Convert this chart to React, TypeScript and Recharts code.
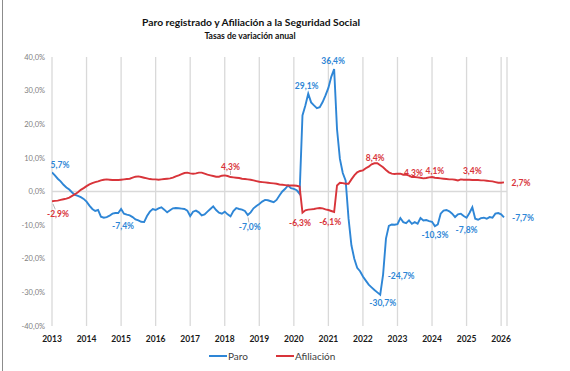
import React from 'react';
import { LineChart, Line, XAxis, YAxis, CartesianGrid, ReferenceLine, Legend, LabelList } from 'recharts';

const START_YEAR = 2013;
const YEAR_TICKS = [2013, 2014, 2015, 2016, 2017, 2018, 2019, 2020, 2021, 2022, 2023, 2024, 2025, 2026];
const Y_TICKS = [-40, -30, -20, -10, 0, 10, 20, 30, 40];

// Monthly year-on-year rates, Jan 2013 .. Feb 2026
const paro = [
  5.7, 4.8, 3.8, 3.0, 2.0, 1.2, 0.6, -0.3, -1.0, -1.3, -1.7, -2.2,
  -3.0, -4.2, -5.2, -5.8, -5.5, -7.5, -7.8, -7.6, -7.2, -6.6, -6.4, -6.4,
  -5.2, -6.6, -6.9, -7.1, -7.6, -8.3, -8.6, -9.0, -9.1, -7.3, -6.0, -5.2,
  -5.5, -5.0, -4.7, -5.4, -6.2, -5.6, -5.0, -4.9, -5.0, -5.1, -5.2, -5.7,
  -7.3, -6.0, -5.7, -6.2, -7.1, -6.8, -6.0, -5.2, -4.4, -5.5, -6.3, -6.6,
  -6.0, -6.8, -7.4, -5.8, -4.9, -5.2, -5.4, -5.8, -7.0, -6.2, -5.0, -4.3,
  -3.7, -3.0, -2.5, -2.6, -2.9, -3.2, -2.5, -1.2, 0.0, 0.8, 1.8, 1.0,
  0.8, 0.4, -0.7, 22.6, 25.6, 29.1, 26.5, 25.6, 24.8, 25.1, 26.6, 28.6,
  30.8, 34.1, 36.4, 18.5, 9.7, 5.5, 3.2, -8.0, -16.0, -20.0, -22.7, -23.7,
  -25.3, -26.5, -27.7, -28.5, -29.3, -30.0, -30.7, -24.7, -14.0, -10.2, -9.8, -9.9,
  -9.7, -7.9, -9.1, -9.4, -8.6, -9.6, -9.1, -9.6, -7.9, -8.6, -8.5, -8.8,
  -9.0, -10.3, -9.8, -6.6, -5.7, -5.5, -5.9, -6.6, -7.6, -6.8, -6.6, -7.3,
  -7.8, -6.4, -4.7, -8.1, -8.4, -7.9, -7.8, -8.1, -7.6, -7.8, -6.6, -6.4,
  -6.8, -7.7,
];

const afiliacion = [
  -2.9, -2.8, -2.7, -2.5, -2.3, -2.1, -1.8, -1.3, -0.8, -0.2, 0.5, 1.0,
  1.6, 2.1, 2.5, 2.8, 3.0, 3.3, 3.5, 3.6, 3.5, 3.4, 3.4, 3.4,
  3.5, 3.6, 3.7, 3.8, 4.1, 4.4, 4.5, 4.3, 4.1, 3.9, 3.7, 3.6,
  3.6, 3.5, 3.6, 3.7, 3.8, 3.9, 4.1, 4.5, 4.8, 5.2, 5.5, 5.6,
  5.4, 5.3, 5.4, 5.6, 5.6, 5.3, 5.0, 4.8, 4.6, 4.4, 4.4, 4.7,
  4.8, 4.6, 4.3, 4.2, 4.1, 4.0, 3.8, 3.7, 3.6, 3.5, 3.3, 3.1,
  2.9, 2.8, 2.7, 2.6, 2.5, 2.4, 2.3, 2.1, 2.0, 1.9, 1.8, 1.8,
  1.8, 1.7, 1.5, -6.3, -5.6, -5.4, -5.3, -5.2, -5.0, -4.9, -5.0, -5.3,
  -5.5, -5.8, -6.1, 1.8, 2.6, 2.5, 2.3, 2.3, 3.6, 4.8, 5.7, 6.1,
  6.3, 6.9, 7.4, 8.1, 8.4, 8.4, 7.8, 7.2, 6.4, 5.7, 5.3, 5.2,
  5.3, 5.3, 5.0, 5.0, 4.7, 4.3, 4.3, 4.2, 4.1, 3.9, 4.0, 4.2,
  4.3, 4.1, 4.0, 3.9, 3.8, 3.7, 3.6, 3.6, 3.5, 3.3, 3.6, 3.5,
  3.5, 3.5, 3.4, 3.4, 3.4, 3.3, 3.3, 3.2, 3.1, 3.0, 2.8, 2.6,
  2.6, 2.7,
];

// Annotated points: [key, year, month, text]
const paroNotes = [
  ['p13', 2013, 1, '5,7%'],
  ['p15', 2015, 1, '-7,4%'],
  ['p18', 2018, 9, '-7,0%'],
  ['p20', 2020, 6, '29,1%'],
  ['p21', 2021, 3, '36,4%'],
  ['p22a', 2022, 8, '-24,7%'],
  ['p22b', 2022, 7, '-30,7%'],
  ['p24', 2024, 2, '-10,3%'],
  ['p25', 2025, 1, '-7,8%'],
  ['p26', 2026, 2, '-7,7%'],
];
const afilNotes = [
  ['a13', 2013, 1, '-2,9%'],
  ['a18', 2018, 3, '4,3%'],
  ['a20', 2020, 4, '-6,3%'],
  ['a21', 2021, 3, '-6,1%'],
  ['a22', 2022, 5, '8,4%'],
  ['a23', 2023, 6, '4,3%'],
  ['a24', 2024, 2, '4,1%'],
  ['a25', 2025, 3, '3,4%'],
  ['a26', 2026, 2, '2,7%'],
];

// label placement (text centre offset from point, pixels)
const NOTE_OFFSETS: Record<string, { dx: number; dy: number; leader?: boolean }> = {
  p13: { dx: 8, dy: -7 },
  p15: { dx: 2, dy: 17 },
  p18: { dx: 2, dy: 12, leader: true },
  p20: { dx: -1.5, dy: -8 },
  p21: { dx: -1, dy: -8 },
  p22a: { dx: 18, dy: 1 },
  p22b: { dx: 2.6, dy: 8.5 },
  p24: { dx: 0, dy: 9 },
  p25: { dx: 0, dy: 12 },
  p26: { dx: 19, dy: 1 },
  a13: { dx: 6, dy: 13, leader: true },
  a18: { dx: 0, dy: -10.5, leader: true },
  a20: { dx: -2.5, dy: 10.5 },
  a21: { dx: -4, dy: 10 },
  a22: { dx: 0.7, dy: -5 },
  a23: { dx: 1.6, dy: -4.3 },
  a24: { dx: 0, dy: -7 },
  a25: { dx: 0, dy: -9 },
  a26: { dx: 17, dy: 1 },
};

const BLUE = '#2E86D6';
const RED = '#D8343A';
const GRID = '#D9D9D9';
const FONT = 'Lato, "Open Sans", sans-serif';

const data = paro.map((p, i) => ({
  t: START_YEAR + i / 12,
  paro: p,
  afiliacion: afiliacion[i],
}));

const idxOf = (y: number, m: number) => (y - START_YEAR) * 12 + (m - 1);

function makeNoteRenderer(notes: any[], color: string) {
  return (props: any) => {
    const { x, y, index } = props;
    const n = notes.find((nn) => idxOf(nn[1], nn[2]) === index);
    if (!n || x == null || y == null) return null;
    const o = NOTE_OFFSETS[n[0]];
    const tx = x + o.dx;
    const ty = y + o.dy;
    return (
      <g key={'n' + n[0]}>
        {o.leader ? (
          <line
            x1={x + o.dx * 0.15}
            y1={y + o.dy * 0.2}
            x2={x + o.dx * 0.55}
            y2={y + o.dy * 0.62}
            stroke="#A6A6A6"
            strokeWidth={0.8}
          />
        ) : null}
        <text
          x={tx}
          y={ty}
          textAnchor="middle"
          dominantBaseline="central"
          fill={color}
          fontSize={8.5}
          fontWeight={700}
          fontFamily={FONT}
        >
          {n[3]}
        </text>
      </g>
    );
  };
}

const fmtPct = (v: number) => `${v.toFixed(1).replace('.', ',')}%`;

const LegendContent = () => (
  <div style={{ display: 'flex', alignItems: 'center', fontFamily: FONT, fontSize: 10, color: '#404040' }}>
    <svg width={18} height={6}><line x1={0} y1={3} x2={18} y2={3} stroke={BLUE} strokeWidth={2} /></svg>
    <span style={{ marginLeft: 1 }}>Paro</span>
    <svg width={18} height={6} style={{ marginLeft: 28 }}><line x1={0} y1={3} x2={18} y2={3} stroke={RED} strokeWidth={2} /></svg>
    <span style={{ marginLeft: 1 }}>Afiliación</span>
  </div>
);

export default function App() {
  return (
    <div style={{ position: 'absolute', left: 0, top: 0, width: 570, height: 371, background: '#fff', overflow: 'hidden' }}>
      <div style={{ position: 'absolute', left: 2, top: 0, width: 1, height: 371, background: '#8C8C8C' }} />
      <div
        style={{
          position: 'absolute', left: 0, width: 502, top: 15, textAlign: 'center',
          fontFamily: FONT, fontWeight: 700, fontSize: 10.3, color: '#111', lineHeight: '14px',
        }}
      >
        Paro registrado y Afiliación a la Seguridad Social
      </div>
      <div
        style={{
          position: 'absolute', left: 0, width: 500, top: 30, textAlign: 'center',
          fontFamily: FONT, fontWeight: 700, fontSize: 8.6, color: '#111', lineHeight: '12px',
        }}
      >
        Tasas de variación anual
      </div>
      <LineChart
        width={570}
        height={371}
        data={data}
        margin={{ top: 57, right: 63, left: 0, bottom: 25 }}
        style={{ position: 'absolute', left: 0, top: 0 }}
      >
        <CartesianGrid horizontal={false} vertical={true} stroke={GRID} strokeWidth={1.3} />
        <XAxis
          dataKey="t"
          type="number"
          domain={[2013, 2026.17]}
          ticks={YEAR_TICKS}
          interval={0}
          axisLine={false}
          tickLine={false}
          height={20}
          tickMargin={4}
          tick={{ fontSize: 8.5, fontWeight: 700, fill: '#1a1a1a', fontFamily: FONT }}
          allowDataOverflow
        />
        <YAxis
          type="number"
          domain={[-40, 40]}
          ticks={Y_TICKS}
          interval={0}
          width={52}
          axisLine={false}
          tickLine={false}
          tickMargin={1}
          tickFormatter={fmtPct}
          tick={{ fontSize: 7.5, fill: '#7F7F7F', fontFamily: FONT }}
        />
        <ReferenceLine y={0} stroke={GRID} strokeWidth={1.5} />
        <Line
          type="linear"
          dataKey="paro"
          name="Paro"
          stroke={BLUE}
          strokeWidth={1.9}
          dot={false}
          isAnimationActive={false}
        >
          <LabelList dataKey="paro" content={makeNoteRenderer(paroNotes, BLUE)} />
        </Line>
        <Line
          type="linear"
          dataKey="afiliacion"
          name="Afiliación"
          stroke={RED}
          strokeWidth={1.9}
          dot={false}
          isAnimationActive={false}
        >
          <LabelList dataKey="afiliacion" content={makeNoteRenderer(afilNotes, RED)} />
        </Line>
        <Legend
          layout="horizontal"
          verticalAlign="middle"
          align="center"
          content={<LegendContent />}
          wrapperStyle={{ position: 'absolute', top: 350, left: 209, width: 200, height: 14 }}
        />
      </LineChart>
    </div>
  );
}
